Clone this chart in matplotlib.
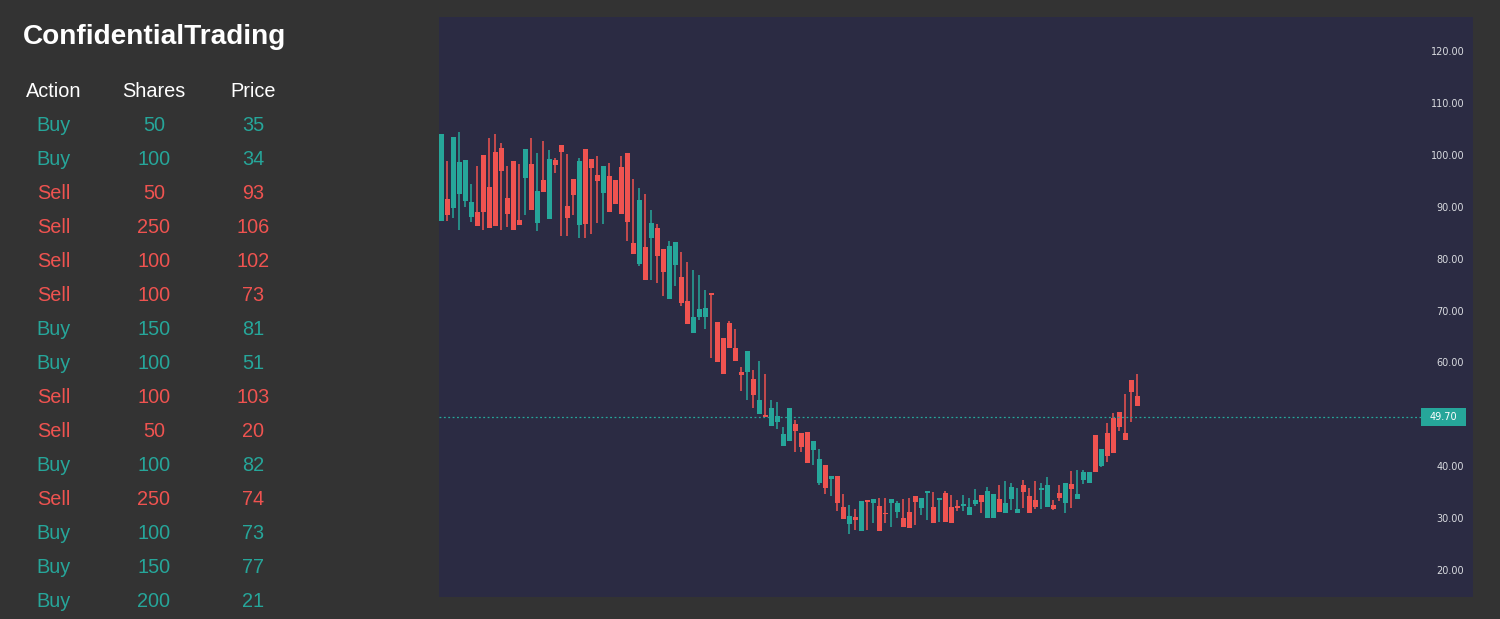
import numpy as np
import matplotlib
matplotlib.use("Agg")
from matplotlib import pyplot as plt
from matplotlib.patches import Rectangle

# trade table on the left
actions = ["Buy", "Buy", "Sell", "Sell", "Sell", "Sell", "Buy", "Buy",
           "Sell", "Sell", "Buy", "Sell", "Buy", "Buy", "Buy"]
shares = [50, 100, 50, 250, 100, 100, 150, 100, 100, 50, 100, 250, 100, 150, 200]
prices = [35, 34, 93, 106, 102, 73, 81, 51, 103, 20, 82, 74, 73, 77, 21]

# candles
opens = [87.5, 91.7, 90.0, 92.7, 91.3, 88.3, 89.2, 100.2, 94.0, 100.7,
         101.5, 91.9, 99.0, 87.6, 95.8, 98.5, 87.1, 95.3, 87.9, 99.2,
         102.1, 90.3, 95.5, 86.7, 101.3, 99.4, 96.3, 92.9, 96.1, 95.3,
         97.8, 100.5, 83.2, 79.2, 82.4, 84.2, 86.1, 82.0, 72.5, 79.0,
         76.6, 72.0, 65.9, 69.0, 69.0, 73.6, 68.0, 64.9, 67.8, 63.0,
         58.3, 58.4, 57.0, 50.3, 50.1, 48.0, 48.8, 44.1, 45.1, 48.3,
         46.6, 46.8, 43.4, 37.0, 40.4, 37.8, 38.3, 32.3, 29.0, 30.4,
         27.8, 33.7, 33.2, 32.5, 31.0, 33.2, 31.4, 30.2, 31.4, 34.5,
         32.1, 35.0, 32.3, 33.7, 35.0, 32.3, 32.5, 32.5, 30.8, 32.9,
         34.6, 30.2, 30.2, 33.9, 31.2, 33.9, 31.2, 36.6, 34.5, 33.7,
         35.6, 32.3, 32.7, 35.0, 33.1, 36.8, 33.9, 37.5, 37.0, 46.2,
         40.2, 46.6, 49.5, 50.6, 46.6, 56.8, 53.7]
highs = [104.2, 99.0, 103.6, 104.6, 99.2, 94.6, 98.0, 100.2, 103.4, 104.2,
         102.5, 98.0, 99.0, 98.4, 101.3, 103.4, 100.5, 102.9, 101.1, 99.6,
         102.1, 100.3, 95.5, 99.6, 101.3, 99.4, 100.0, 98.0, 98.6, 95.3,
         100.0, 100.5, 95.5, 93.8, 92.6, 89.6, 86.9, 82.0, 83.6, 83.4,
         81.5, 79.5, 78.0, 77.0, 74.1, 73.6, 68.0, 64.9, 68.2, 66.6,
         59.3, 62.4, 58.7, 60.5, 58.0, 53.0, 52.6, 47.7, 51.4, 49.1,
         46.6, 46.8, 45.0, 43.5, 40.4, 38.3, 38.3, 34.8, 32.7, 32.0,
         33.5, 33.7, 33.9, 34.1, 34.1, 33.9, 33.5, 33.9, 34.1, 34.5,
         34.1, 35.2, 35.2, 34.1, 35.4, 34.6, 33.7, 34.6, 34.1, 35.8,
         34.6, 36.2, 34.8, 36.6, 37.3, 37.0, 36.0, 37.5, 36.0, 37.3,
         37.0, 38.1, 33.7, 36.6, 37.0, 39.3, 39.5, 39.5, 39.1, 46.2,
         43.5, 48.5, 50.4, 50.6, 54.1, 56.8, 58.0]
lows = [87.5, 87.5, 88.1, 85.8, 90.2, 87.3, 86.5, 85.8, 86.1, 86.5,
        85.8, 86.3, 85.8, 86.7, 88.5, 89.6, 85.6, 93.1, 87.9, 96.6,
        84.6, 84.6, 88.6, 84.2, 84.2, 85.0, 87.1, 86.9, 89.2, 90.8,
        88.7, 83.6, 81.1, 78.8, 76.1, 76.1, 75.4, 72.9, 72.5, 75.0,
        71.1, 67.5, 65.9, 68.4, 66.7, 61.1, 60.3, 58.0, 63.0, 60.5,
        54.7, 53.0, 51.5, 50.3, 49.6, 48.0, 47.4, 44.1, 45.1, 43.0,
        43.0, 40.9, 40.5, 36.6, 34.9, 34.5, 31.6, 30.1, 27.2, 28.0,
        27.8, 28.0, 29.3, 27.8, 29.3, 28.5, 30.3, 28.5, 28.3, 28.9,
        30.8, 29.8, 29.2, 29.4, 29.4, 29.2, 31.6, 31.6, 30.8, 32.5,
        31.2, 30.2, 30.2, 31.4, 31.2, 31.8, 31.2, 32.2, 31.2, 31.9,
        31.9, 32.3, 31.8, 33.5, 31.2, 32.1, 33.9, 36.8, 37.0, 39.1,
        40.0, 41.0, 42.7, 47.0, 45.2, 48.7, 51.8]
closes = [104.2, 88.5, 103.6, 98.8, 99.2, 91.1, 86.5, 89.2, 86.1, 86.5,
          97.1, 88.8, 85.8, 86.7, 101.3, 89.6, 93.2, 93.1, 99.4, 98.3,
          100.7, 88.0, 92.4, 99.0, 86.9, 97.7, 95.2, 98.0, 89.2, 90.8,
          88.7, 87.3, 81.1, 91.5, 76.1, 87.1, 80.6, 77.7, 82.6, 83.4,
          71.7, 67.5, 68.9, 70.5, 70.7, 73.2, 60.3, 58.0, 63.0, 60.5,
          57.8, 62.4, 54.0, 53.0, 49.6, 51.4, 49.9, 46.4, 51.4, 47.0,
          43.9, 40.9, 45.0, 41.6, 36.0, 38.3, 33.2, 30.1, 30.6, 29.9,
          33.5, 33.3, 33.9, 27.8, 30.9, 33.9, 33.1, 28.5, 28.3, 33.3,
          34.1, 35.2, 29.2, 34.1, 29.4, 29.2, 32.1, 32.9, 32.3, 33.7,
          33.3, 35.4, 34.8, 31.4, 33.1, 36.2, 31.9, 35.2, 31.2, 32.3,
          36.0, 36.6, 31.9, 34.1, 37.0, 35.8, 34.8, 39.1, 39.1, 39.1,
          43.5, 42.2, 42.7, 47.7, 45.2, 54.5, 51.8]
last_price = 49.70
# the 50.00 label sits under the last price box, so it is not shown
price_ticks = [20, 30, 40, 60, 70, 80, 90, 100, 110, 120]

up_col = "#26a69a"
down_col = "#ef5350"
page_bg = "#333333"
chart_bg = "#2b2b43"

W, H = 1500, 619
fig = plt.figure(figsize=(W / 100, H / 100), dpi=100, facecolor=page_bg)

def fx(px):
    return px / W

def fy(py):
    return 1 - py / H

# left panel
fig.text(fx(23), fy(36.5), "ConfidentialTrading", color="white", fontsize=20.2,
         fontweight="bold", family="Liberation Sans", ha="left", va="center")
for label, cx in zip(["Action", "Shares", "Price"], [54, 154, 253]):
    fig.text(fx(cx), fy(91.5), label, color="white", fontsize=14.3,
             family="Liberation Sans", ha="center", va="center")
for k in range(len(actions)):
    col = up_col if actions[k] == "Buy" else down_col
    y = fy(125.5 + 34 * k)
    fig.text(fx(54), y, actions[k], color=col, fontsize=14.3,
             family="Liberation Sans", ha="center", va="center")
    fig.text(fx(154), y, str(shares[k]), color=col, fontsize=14.3,
             family="Liberation Sans", ha="center", va="center")
    fig.text(fx(253), y, str(prices[k]), color=col, fontsize=14.3,
             family="Liberation Sans", ha="center", va="center")

# candle chart
ax = fig.add_axes([fx(439), 1 - 597 / H, (1473 - 439) / W, (597 - 17) / H])
ax.set_facecolor(chart_bg)
for s in ax.spines.values():
    s.set_visible(False)
ax.set_xticks([])
ax.set_yticks([])

o = np.array(opens)
h = np.array(highs)
l = np.array(lows)
c = np.array(closes)
x = np.arange(len(o))
colors = np.where(c >= o, up_col, down_col)

ax.vlines(x, l, h, colors=colors, linewidth=1.1)
body = np.maximum(np.abs(c - o), 0.35)
ax.bar(x, body, bottom=np.minimum(o, c), width=0.8, color=colors, linewidth=0)

ax.set_xlim(-0.38, 171.95)
ax.set_ylim(15.0, 126.74)

ytr = ax.get_yaxis_transform()
for v in price_ticks:
    ax.text(0.9915, v, f"{v:.2f}", transform=ytr, ha="right", va="center",
            fontsize=7, color="#d9dbe0")

# last price line and label
ax.plot([0, 0.9497], [last_price, last_price], transform=ytr, color=up_col,
        linewidth=0.9, linestyle=(0, (1.5, 2)))
ax.add_patch(Rectangle((0.9497, last_price - 1.73), 0.0435, 3.46,
                       transform=ytr, facecolor=up_col, edgecolor="none"))
ax.text(0.9715, last_price, f"{last_price:.2f}", transform=ytr, ha="center",
        va="center", fontsize=7, color="white")

fig.savefig("out.png", dpi=100, facecolor=page_bg)
